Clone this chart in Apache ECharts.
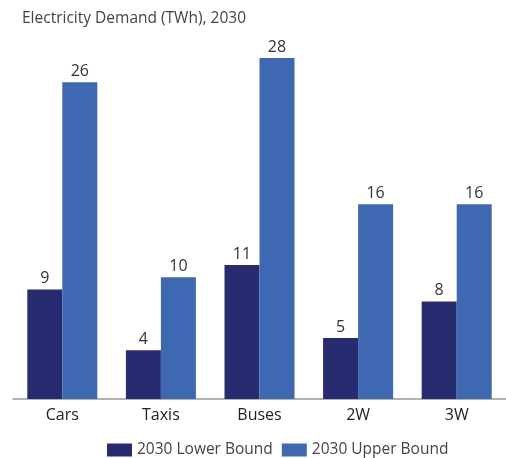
<!DOCTYPE html>
<html>
<head>
<meta charset="utf-8">
<script src="https://cdn.jsdelivr.net/npm/echarts@6/dist/echarts.min.js"></script>
<style>
  html, body { margin: 0; padding: 0; background: #fff; }
  #chart { width: 506px; height: 458px; }
</style>
</head>
<body>
<div id="chart"></div>
<script>
const categories = ['Cars', 'Taxis', 'Buses', '2W', '3W'];
const lowerBound = [9, 4, 11, 5, 8];
const upperBound = [26, 10, 28, 16, 16];
const seriesNames = ['2030 Lower Bound', '2030 Upper Bound'];
const titleText = 'Electricity Demand (TWh), 2030';

const FONT = '"Open Sans", "Noto Sans", sans-serif';
const chart = echarts.init(document.getElementById('chart'));

const valueLabel = {
  show: true,
  position: 'top',
  distance: 3,
  fontSize: 16,
  fontFamily: FONT,
  color: '#333'
};

chart.setOption({
  animation: false,
  title: {
    text: titleText,
    left: 22,
    top: 11,
    padding: 0,
    textStyle: { fontSize: 15.5, fontWeight: 'normal', color: '#444', fontFamily: FONT }
  },
  legend: {
    top: 442,
    left: 107,
    padding: 0,
    itemWidth: 25,
    itemHeight: 13,
    itemGap: 9,
    icon: 'rect',
    textStyle: { fontSize: 15.5, color: '#444', fontFamily: FONT },
    data: seriesNames
  },
  grid: { left: 13, right: -6, top: 58, bottom: 59, containLabel: false },
  xAxis: {
    type: 'category',
    data: categories,
    axisLine: { lineStyle: { color: '#999', width: 1.5 } },
    axisTick: { show: false },
    axisLabel: { fontSize: 16, color: '#222', margin: 8, fontFamily: FONT }
  },
  yAxis: {
    type: 'value',
    min: 0,
    max: 28,
    show: false,
    splitLine: { show: false }
  },
  series: [
    {
      name: seriesNames[0],
      type: 'bar',
      data: lowerBound,
      barGap: '0%',
      barCategoryGap: '29%',
      itemStyle: { color: '#272b6f' },
      label: valueLabel
    },
    {
      name: seriesNames[1],
      type: 'bar',
      data: upperBound,
      barGap: '0%',
      barCategoryGap: '29%',
      itemStyle: { color: '#3e68b2' },
      label: valueLabel
    }
  ]
});
</script>
</body>
</html>
